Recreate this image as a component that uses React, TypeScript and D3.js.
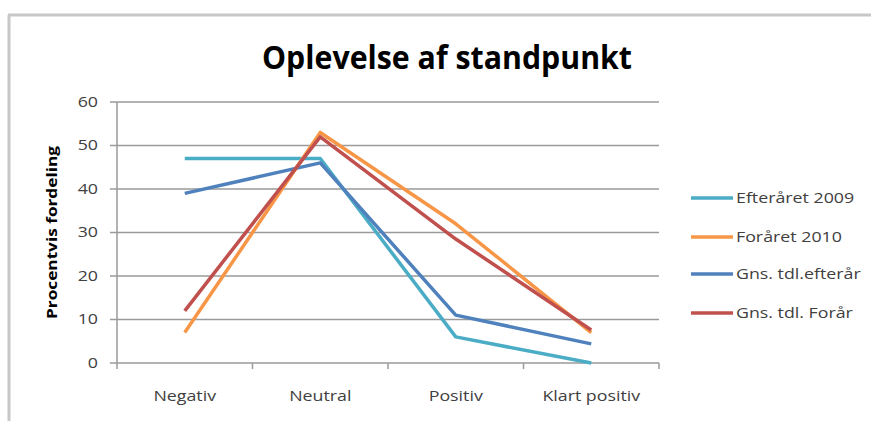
import React from "react";
import * as d3 from "d3";

const categories = ["Negativ", "Neutral", "Positiv", "Klart positiv"];
const seriesNames = ["Efteråret 2009", "Foråret 2010", "Gns. tdl.efterår", "Gns. tdl. Forår"];
const efteraaret2009 = [47, 47, 6, 0];
const foraaret2010 = [7, 53, 32, 7];
const gnsEfteraar = [39, 46, 11, 4.4];
const gnsForaar = [12, 52, 28.5, 7.6];
const seriesColors = ["#4BACC6", "#F79646", "#4F81BD", "#C0504D"];
const yTicks = [0, 10, 20, 30, 40, 50, 60];

const W = 871;
const H = 421;
const FONT = "'Open Sans', 'Noto Sans', sans-serif";
const SX = 1.27;

export default function App() {
  const left = 117, right = 659, top = 102, bottom = 363;
  const x = d3.scaleBand<string>().domain(categories).range([left, right]);
  const y = d3.scaleLinear().domain([0, 60]).range([bottom, top]);
  const data = [efteraaret2009, foraaret2010, gnsEfteraar, gnsForaar];
  const line = d3
    .line<number>()
    .x((_, i) => (x(categories[i]) as number) + x.bandwidth() / 2)
    .y((d) => y(d));
  const tickXs = [left, ...categories.map((c) => (x(c) as number) + x.bandwidth())];
  const legendY = [198, 237, 274, 313];

  return (
    <svg
      width={W}
      height={H}
      style={{ position: "absolute", left: 0, top: 0, background: "#fff" }}
      fontFamily={FONT}
    >
      <rect x={0} y={0} width={W} height={H} fill="#fff" />
      {/* frame */}
      <line x1={8} y1={15} x2={W} y2={15} stroke="#c8c8c8" strokeWidth={3} />
      <line x1={9} y1={15} x2={9} y2={H} stroke="#c8c8c8" strokeWidth={3} />

      <text
        x={447}
        y={69}
        textAnchor="middle"
        fontSize={32}
        fontWeight="bold"
        fill="#000"
        textLength={370}
        lengthAdjust="spacingAndGlyphs"
      >
        Oplevelse af standpunkt
      </text>

      {/* gridlines */}
      {yTicks.map((t) => (
        <g key={t}>
          {t > 0 && (
            <line x1={left} x2={right} y1={y(t)} y2={y(t)} stroke="#9a9a9a" strokeWidth={1.5} />
          )}
          <line x1={left - 7} x2={left} y1={y(t)} y2={y(t)} stroke="#9a9a9a" strokeWidth={1.5} />
          <text
            transform={`translate(${left - 19},${y(t)}) scale(${SX},1)`}
            dy="0.35em"
            textAnchor="end"
            fontSize={14}
            fill="#404040"
          >
            {t}
          </text>
        </g>
      ))}
      {/* axes */}
      <line x1={left} x2={left} y1={top} y2={bottom} stroke="#9a9a9a" strokeWidth={1.5} />
      <line x1={left} x2={right} y1={bottom} y2={bottom} stroke="#9a9a9a" strokeWidth={1.5} />
      {tickXs.map((tx, i) => (
        <line key={i} x1={tx} x2={tx} y1={bottom} y2={bottom + 6} stroke="#9a9a9a" strokeWidth={1.5} />
      ))}
      {categories.map((c) => (
        <text
          key={c}
          transform={`translate(${(x(c) as number) + x.bandwidth() / 2},396) scale(${SX},1)`}
          dy="0.35em"
          textAnchor="middle"
          fontSize={14}
          fill="#404040"
        >
          {c}
        </text>
      ))}
      <text
        transform={`translate(52,${(top + bottom) / 2}) rotate(-90)`}
        textAnchor="middle"
        dy="0.35em"
        fontSize={14.5}
        fontWeight="bold"
        fill="#000"
        textLength={173}
        lengthAdjust="spacingAndGlyphs"
      >
        Procentvis fordeling
      </text>

      {/* lines */}
      {data.map((d, i) => (
        <path
          key={i}
          d={line(d) as string}
          fill="none"
          stroke={seriesColors[i]}
          strokeWidth={3.5}
          strokeLinejoin="round"
        />
      ))}

      {/* legend */}
      {seriesNames.map((n, i) => (
        <g key={n}>
          <line x1={691} x2={733} y1={legendY[i]} y2={legendY[i]} stroke={seriesColors[i]} strokeWidth={3.5} />
          <text
            transform={`translate(736,${legendY[i]}) scale(${SX},1)`}
            dy="0.35em"
            fontSize={14}
            fill="#404040"
          >
            {n}
          </text>
        </g>
      ))}
    </svg>
  );
}
